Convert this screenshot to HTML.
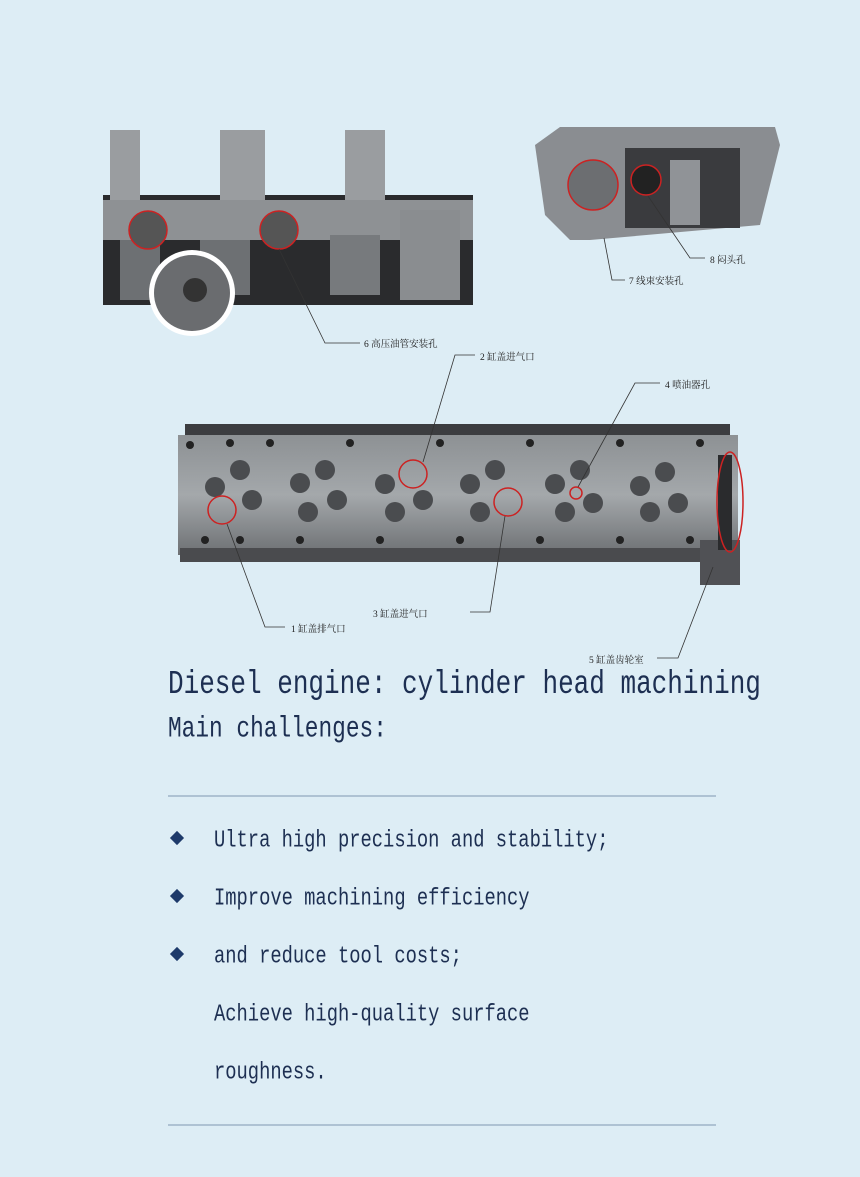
<!DOCTYPE html>
<html><head><meta charset="utf-8"><style>
body{margin:0;width:860px;height:1177px;background:#ddedf5;position:relative;overflow:hidden;font-family:"Liberation Serif","Noto Serif CJK SC",serif}
.t{position:absolute;font-family:"Liberation Mono",monospace;color:#1d2f52;white-space:nowrap;transform:scaleY(1.28);transform-origin:50% 50%}
.lbl{position:absolute;font-size:9.5px;color:#222;white-space:nowrap;font-family:"Liberation Serif","Noto Serif CJK SC",serif}
.b{position:absolute;width:10px;height:10px;background:#1d3a6a;transform:rotate(45deg)}
</style></head><body>
<svg width="860" height="1177" style="position:absolute;left:0;top:0">
<defs>
<linearGradient id="g2" x1="0" y1="0" x2="0" y2="1"><stop offset="0" stop-color="#8d9194"/><stop offset="0.5" stop-color="#a4a8ab"/><stop offset="1" stop-color="#6d7073"/></linearGradient>
</defs>
<rect x="103" y="195" width="370" height="110" fill="#2a2b2d"/>
<rect x="103" y="200" width="370" height="40" fill="#8e9194"/>
<rect x="110" y="130" width="30" height="70" fill="#9a9da0"/>
<rect x="220" y="130" width="45" height="70" fill="#9a9da0"/>
<rect x="345" y="130" width="40" height="70" fill="#9a9da0"/>
<rect x="120" y="240" width="40" height="60" fill="#6d7073"/>
<rect x="200" y="240" width="50" height="55" fill="#6d7073"/>
<rect x="330" y="235" width="50" height="60" fill="#777a7d"/>
<rect x="400" y="210" width="60" height="90" fill="#8a8d90"/>
<circle cx="148" cy="230" r="19" fill="#555" stroke="#c22" stroke-width="1.5"/>
<circle cx="279" cy="230" r="19" fill="#555" stroke="#c22" stroke-width="1.5"/>
<circle cx="192" cy="293" r="43" fill="#fff"/>
<circle cx="192" cy="293" r="38" fill="#6a6c6f"/>
<circle cx="195" cy="290" r="12" fill="#333"/>
<polygon points="535,145 560,127 775,127 780,145 760,225 590,240 570,240 545,215" fill="#8a8d91"/>
<rect x="625" y="148" width="115" height="80" fill="#3a3b3e"/>
<rect x="670" y="160" width="30" height="65" fill="#909397"/>
<circle cx="593" cy="185" r="25" fill="#6c6e71" stroke="#c22" stroke-width="1.5"/>
<circle cx="646" cy="180" r="15" fill="#222" stroke="#c22" stroke-width="1.5"/>
<rect x="185" y="424" width="545" height="28" fill="#3c3d40"/>
<rect x="178" y="435" width="560" height="120" fill="url(#g2)"/>
<rect x="180" y="548" width="555" height="14" fill="#4a4b4e"/>
<rect x="700" y="540" width="40" height="45" fill="#505155"/>
<g fill="#4a4c4f">
<circle cx="215" cy="487" r="10"/><circle cx="252" cy="500" r="10"/><circle cx="240" cy="470" r="10"/><circle cx="300" cy="483" r="10"/><circle cx="325" cy="470" r="10"/><circle cx="337" cy="500" r="10"/><circle cx="308" cy="512" r="10"/>
<circle cx="385" cy="484" r="10"/><circle cx="395" cy="512" r="10"/><circle cx="423" cy="500" r="10"/><circle cx="470" cy="484" r="10"/><circle cx="495" cy="470" r="10"/><circle cx="480" cy="512" r="10"/>
<circle cx="555" cy="484" r="10"/><circle cx="580" cy="470" r="10"/><circle cx="593" cy="503" r="10"/><circle cx="565" cy="512" r="10"/><circle cx="640" cy="486" r="10"/><circle cx="665" cy="472" r="10"/><circle cx="678" cy="503" r="10"/><circle cx="650" cy="512" r="10"/>
</g>
<g fill="#222">
<circle cx="190" cy="445" r="4"/><circle cx="230" cy="443" r="4"/><circle cx="270" cy="443" r="4"/><circle cx="350" cy="443" r="4"/><circle cx="440" cy="443" r="4"/><circle cx="530" cy="443" r="4"/><circle cx="620" cy="443" r="4"/><circle cx="700" cy="443" r="4"/>
<circle cx="205" cy="540" r="4"/><circle cx="240" cy="540" r="4"/><circle cx="300" cy="540" r="4"/><circle cx="380" cy="540" r="4"/><circle cx="460" cy="540" r="4"/><circle cx="540" cy="540" r="4"/><circle cx="620" cy="540" r="4"/><circle cx="690" cy="540" r="4"/>
</g>
<rect x="718" y="455" width="14" height="95" fill="#2a2b2d"/>
<g fill="none" stroke="#c22" stroke-width="1.5">
<circle cx="222" cy="510" r="14"/><circle cx="413" cy="474" r="14"/><circle cx="508" cy="502" r="14"/><circle cx="576" cy="493" r="6"/>
<ellipse cx="730" cy="502" rx="13" ry="50"/>
</g>
<g fill="none" stroke="#333" stroke-width="0.8">
<polyline points="279,249 325,343 360,343"/>
<polyline points="604,238 612,280 625,280"/>
<polyline points="648,196 690,258 705,258"/>
<polyline points="227,524 265,627 285,627"/>
<polyline points="423,462 455,355 475,355"/>
<polyline points="505,516 490,612 470,612"/>
<polyline points="578,487 635,383 660,383"/>
<polyline points="713,567 678,658 657,658"/>
</g>
<line x1="168" y1="796" x2="716" y2="796" stroke="#9fb4c8" stroke-width="1.5"/>
<line x1="168" y1="1125" x2="716" y2="1125" stroke="#9fb4c8" stroke-width="1.5"/>
</svg>
<div class="lbl" style="left:364px;top:336px">6 高压油管安装孔</div>
<div class="lbl" style="left:629px;top:273px">7 线束安装孔</div>
<div class="lbl" style="left:710px;top:252px">8 闷头孔</div>
<div class="lbl" style="left:480px;top:349px">2 缸盖进气口</div>
<div class="lbl" style="left:665px;top:377px">4 喷油器孔</div>
<div class="lbl" style="left:291px;top:621px">1 缸盖排气口</div>
<div class="lbl" style="left:373px;top:606px">3 缸盖进气口</div>
<div class="lbl" style="left:589px;top:652px">5 缸盖齿轮室</div>
<div class="t" style="left:168px;top:669px;font-size:26px">Diesel engine: cylinder head machining</div>
<div class="t" style="left:168px;top:716px;font-size:22.8px">Main challenges:</div>
<div class="b" style="left:172px;top:833px"></div>
<div class="b" style="left:172px;top:891px"></div>
<div class="b" style="left:172px;top:949px"></div>
<div class="t" style="left:214px;top:829px;font-size:18.8px">Ultra high precision and stability;</div>
<div class="t" style="left:214px;top:887px;font-size:18.8px">Improve machining efficiency</div>
<div class="t" style="left:214px;top:945px;font-size:18.8px">and reduce tool costs;</div>
<div class="t" style="left:214px;top:1003px;font-size:18.8px">Achieve high-quality surface</div>
<div class="t" style="left:214px;top:1061px;font-size:18.8px">roughness.</div>
</body></html>
